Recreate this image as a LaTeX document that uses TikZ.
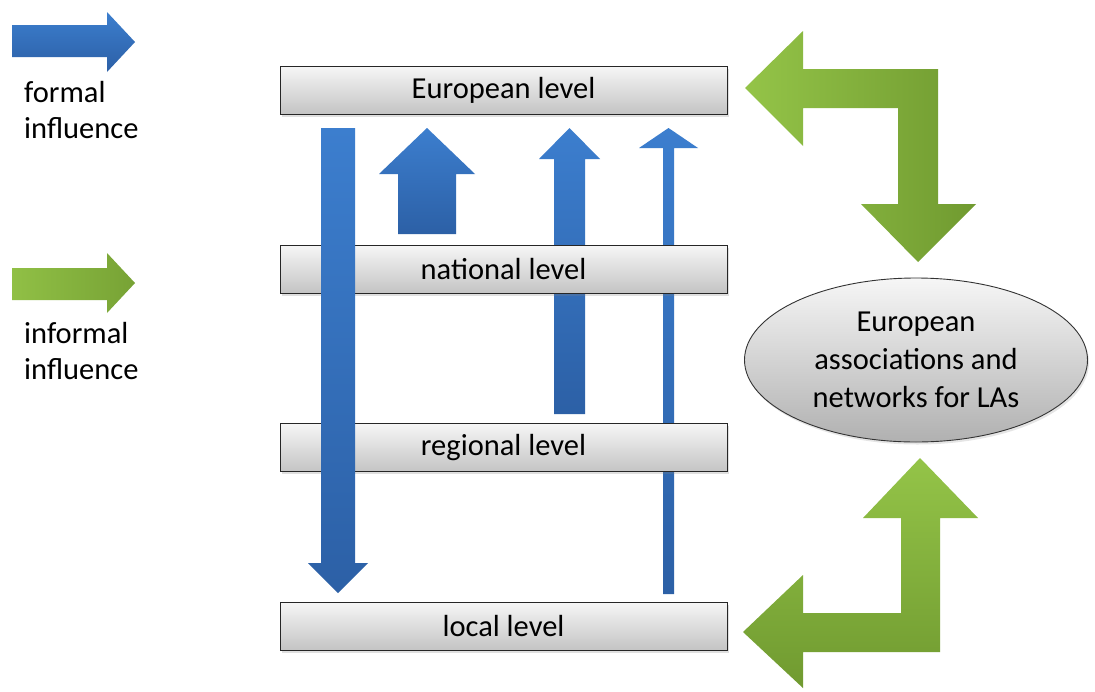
\documentclass[tikz,border=0pt]{standalone}
\usepackage{fontspec}
\setmainfont{Carlito}
\usetikzlibrary{shapes.geometric,shadows}
\definecolor{bluetop}{RGB}{60,126,206}
\definecolor{bluebot}{RGB}{44,96,166}
\definecolor{greenlt}{RGB}{148,196,72}
\definecolor{greendk}{RGB}{112,154,48}
\definecolor{boxtop}{RGB}{246,246,246}
\definecolor{boxbot}{RGB}{196,196,196}
\tikzset{
  txt/.style={font=\fontsize{30.5}{37}\selectfont},
  lvl/.style={txt, draw=black!85, line width=0.9pt, top color=boxtop, bottom color=boxbot,
    minimum width=447pt, minimum height=48pt, inner sep=0pt,
    drop shadow={opacity=0.25, shadow xshift=1.5pt, shadow yshift=-2.5pt}},
  blue arrow/.style={top color=bluetop, bottom color=bluebot, draw=none},
}
\begin{document}
\begin{tikzpicture}[x=1pt,y=-1pt]
\useasboundingbox (0,0) rectangle (1095,691);
\fill[white] (0,0) rectangle (1095,691);

% legend
\shade[blue arrow] (12,25) -- (107,25) -- (107,12) -- (135,42) -- (107,72) -- (107,57) -- (12,57) -- cycle;
\node[txt, anchor=west, align=left, inner sep=0pt] (lf) at (24,110) {formal\\[-1pt]influence};
\shade[left color=greenlt!90!greendk, right color=greendk!80!greenlt] (12,268) -- (107,268) -- (107,253) -- (135,283) -- (107,313) -- (107,300) -- (12,300) -- cycle;
\node[txt, anchor=west, align=left, inner sep=0pt] (li) at (24,351) {informal\\[-1pt]influence};

% blue arrows that pass behind the boxes
\shade[blue arrow] (554,414) -- (585,414) -- (585,159) -- (600,159) -- (569.5,128) -- (539,159) -- (554,159) -- cycle;
\shade[blue arrow] (663,594) -- (674,594) -- (674,148) -- (698,148) -- (668.5,128) -- (639,148) -- (663,148) -- cycle;

% levels
\node[lvl] (eu)  at (503.5,90)  {European level};
\node[lvl] (nat) at (503.5,269) {national level};
\node[lvl] (reg) at (503.5,447.5) {regional level};
\node[lvl] (loc) at (503.5,626) {local level};

% blue arrows in front
\shade[blue arrow] (321,128) -- (355,128) -- (355,563) -- (368,563) -- (338,593) -- (308,563) -- (321,563) -- cycle;
\shade[blue arrow] (398,234) -- (456,234) -- (456,174) -- (475,174) -- (427,128) -- (379,174) -- (398,174) -- cycle;

% ellipse
\node[txt, ellipse, draw=black!80, line width=0.9pt, top color=boxtop, bottom color=boxbot!90!black,
  minimum width=343pt, minimum height=164pt, inner sep=0pt, align=center,
  drop shadow={opacity=0.2, shadow xshift=1.5pt, shadow yshift=-2.5pt}]
  (net) at (916,360) {European\\[1pt]associations and\\[1pt]networks for LAs};

% green bent arrows
\shade[left color=greenlt, right color=greendk]
  (745,88) -- (803,31) -- (803,69) -- (938,69) -- (938,204) -- (976,204) -- (918,262)
  -- (861,204) -- (898,204) -- (898,108) -- (803,108) -- (803,146) -- cycle;
\shade[top color=greenlt, bottom color=greendk]
  (920,458) -- (978,518) -- (940,518) -- (940,652) -- (803,652) -- (803,688)
  -- (743,632) -- (803,575) -- (803,613) -- (901,613) -- (901,518) -- (863,518) -- cycle;
\end{tikzpicture}
\end{document}
